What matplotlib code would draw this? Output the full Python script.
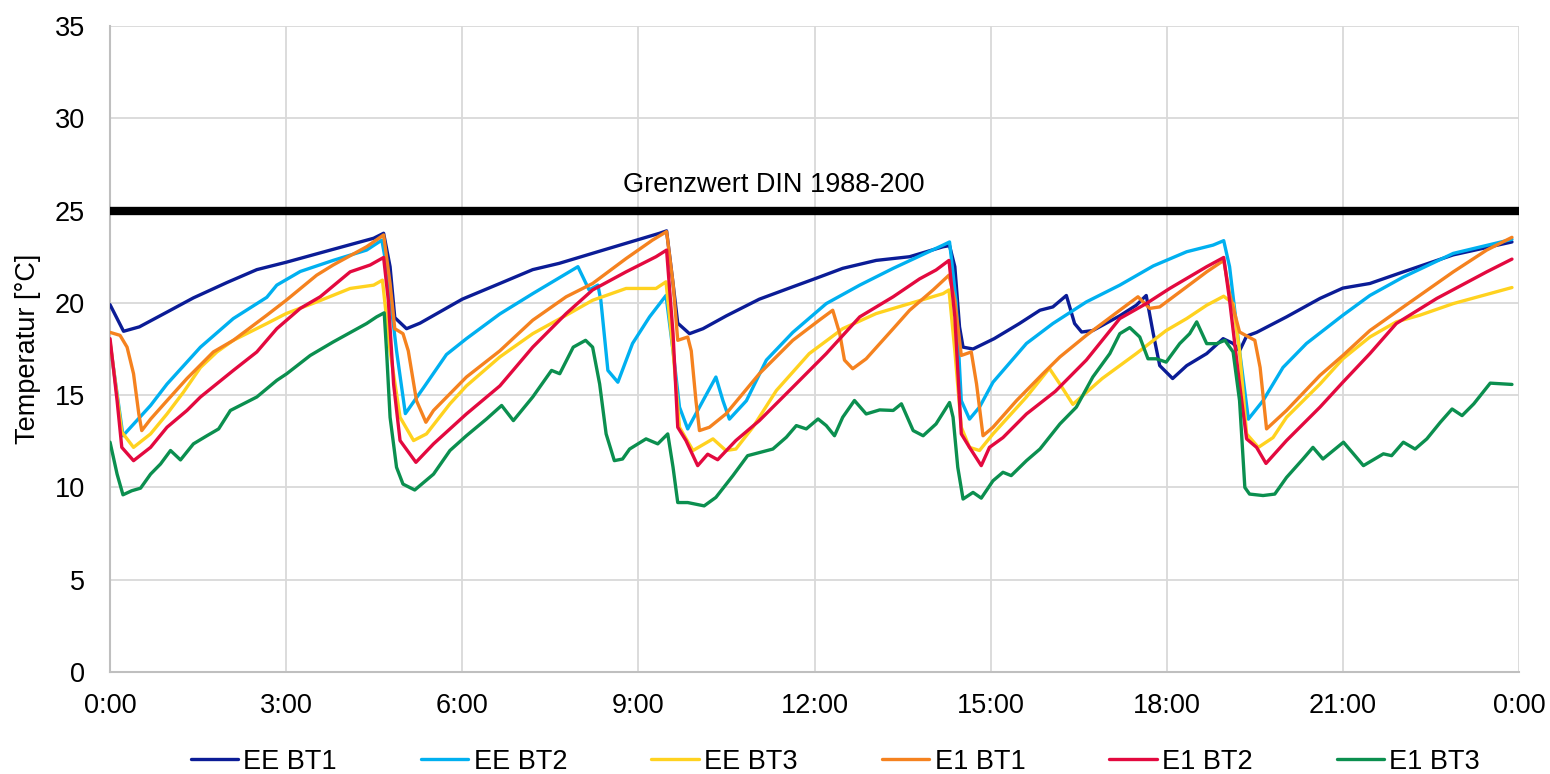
import matplotlib
matplotlib.use("Agg")
import matplotlib.pyplot as plt

# time in hours, temperature in degC
ee_bt1_h = [0.0, 0.23, 0.5, 0.97, 1.42, 1.99, 2.5, 3.0, 3.8, 4.49, 4.66, 4.77, 4.85, 5.05, 5.28,
            6.0, 6.64, 7.2, 7.65, 8.34, 9.36, 9.48, 9.59, 9.67, 9.87, 10.1, 10.5, 11.06, 11.63,
            12.0, 12.48, 13.05, 13.62, 14.19, 14.3, 14.39, 14.47, 14.53, 14.7, 15.06, 15.49,
            15.84, 16.06, 16.29, 16.43, 16.55, 16.74, 17.2, 17.48, 17.65, 17.77, 17.88, 18.1,
            18.34, 18.68, 18.96, 19.13, 19.24, 19.36, 19.53, 20.04, 20.61, 21.0, 21.46, 22.03,
            22.88, 23.88]
ee_bt1_t = [19.9, 18.46, 18.7, 19.5, 20.27, 21.1, 21.8, 22.2, 22.9, 23.5, 23.77, 21.96, 19.2, 18.6,
            18.9, 20.2, 21.05, 21.8, 22.14, 22.8, 23.77, 23.9, 21.05, 18.9, 18.33, 18.6, 19.3,
            20.2, 20.87, 21.3, 21.87, 22.3, 22.5, 23.04, 23.1, 21.96, 18.7, 17.6, 17.5, 18.06,
            18.88, 19.6, 19.78, 20.4, 18.88, 18.42, 18.5, 19.3, 19.87, 20.4, 18.33, 16.6, 15.9,
            16.6, 17.25, 18.06, 17.8, 17.4, 18.2, 18.4, 19.24, 20.24, 20.8, 21.05, 21.68, 22.6,
            23.3]

ee_bt2_h = [0.0, 0.22, 0.69, 0.97, 1.54, 2.1, 2.67, 2.84, 3.24, 3.8, 4.37, 4.63, 4.71, 4.88, 5.03,
            5.34, 5.73, 6.07, 6.64, 7.2, 7.97, 8.16, 8.31, 8.36, 8.48, 8.65, 8.9, 9.19, 9.47, 9.59,
            9.7, 9.84, 10.1, 10.32, 10.44, 10.55, 10.84, 11.18, 11.63, 12.2, 12.77, 13.34, 13.9,
            14.19, 14.3, 14.41, 14.5, 14.64, 14.81, 15.04, 15.61, 16.06, 16.63, 17.2, 17.77,
            18.34, 18.79, 18.97, 19.07, 19.24, 19.39, 19.64, 19.98, 20.38, 21.0, 21.46, 22.03,
            22.88, 23.88]
ee_bt2_t = [17.8, 12.8, 14.44, 15.6, 17.6, 19.15, 20.3, 20.96, 21.7, 22.3, 22.86, 23.4, 21.96, 17.4,
            14.0, 15.4, 17.2, 18.06, 19.4, 20.5, 21.96, 20.7, 20.96, 20.14, 16.34, 15.7, 17.8,
            19.24, 20.4, 17.4, 14.35, 13.17, 14.7, 15.98, 14.7, 13.7, 14.7, 16.9, 18.4, 19.96,
            20.96, 21.87, 22.7, 23.13, 23.3, 20.14, 14.7, 13.7, 14.35, 15.7, 17.8, 18.88, 20.05,
            20.96, 22.0, 22.77, 23.13, 23.37, 21.96, 17.4, 13.7, 14.7, 16.5, 17.8, 19.33, 20.4,
            21.4, 22.68, 23.44]

ee_bt3_h = [0.0, 0.2, 0.4, 0.69, 0.97, 1.25, 1.54, 1.82, 2.1, 2.67, 3.0, 3.52, 4.09, 4.49, 4.64,
            4.77, 4.94, 5.17, 5.39, 5.79, 6.07, 6.64, 7.2, 7.77, 8.22, 8.79, 9.3, 9.47, 9.59, 9.7,
            9.93, 10.27, 10.49, 10.66, 10.95, 11.35, 11.91, 12.48, 13.05, 13.62, 14.19, 14.29,
            14.39, 14.5, 14.64, 14.81, 15.04, 15.61, 16.0, 16.18, 16.4, 16.9, 17.48, 17.99,
            18.34, 18.68, 18.97, 19.13, 19.24, 19.36, 19.56, 19.81, 20.04, 20.61, 21.0, 21.46,
            21.91, 22.31, 22.88, 23.88]
ee_bt3_t = [17.9, 13.0, 12.17, 12.9, 13.98, 15.16, 16.5, 17.34, 17.97, 18.88, 19.42, 20.05, 20.78,
            20.96, 21.23, 17.4, 13.8, 12.54, 12.9, 14.53, 15.5, 17.07, 18.33, 19.33, 20.14, 20.78,
            20.78, 21.14, 17.4, 13.26, 12.0, 12.63, 12.0, 12.08, 13.26, 15.25, 17.25, 18.6, 19.42,
            19.96, 20.5, 20.7, 17.4, 13.26, 12.17, 12.0, 12.9, 14.9, 16.45, 15.6, 14.5, 15.9,
            17.25, 18.5, 19.15, 19.87, 20.36, 19.96, 17.4, 12.9, 12.17, 12.7, 13.8, 15.6, 16.97,
            18.15, 18.97, 19.33, 19.96, 20.83]

e1_bt1_h = [0.0, 0.17, 0.29, 0.4, 0.49, 0.54, 0.69, 0.97, 1.31, 1.76, 2.1, 2.67, 3.0, 3.52, 3.8,
            4.37, 4.66, 4.77, 4.85, 4.99, 5.08, 5.22, 5.38, 5.51, 6.07, 6.64, 7.2, 7.77, 8.22,
            8.79, 9.24, 9.48, 9.59, 9.67, 9.84, 9.9, 9.98, 10.04, 10.21, 10.49, 11.06, 11.63,
            12.08, 12.31, 12.43, 12.51, 12.65, 12.88, 13.34, 13.62, 14.02, 14.29, 14.39, 14.5,
            14.67, 14.76, 14.87, 15.04, 15.44, 15.89, 16.18, 16.63, 17.2, 17.51, 17.71, 17.88,
            18.34, 18.68, 18.97, 19.07, 19.24, 19.5, 19.59, 19.7, 20.04, 20.61, 21.0, 21.46,
            22.03, 22.88, 23.45, 23.88]
e1_bt1_t = [18.4, 18.24, 17.6, 16.16, 13.98, 13.08, 13.7, 14.7, 15.9, 17.34, 17.97, 19.33, 20.14,
            21.5, 22.05, 23.04, 23.68, 21.05, 18.6, 18.33, 17.4, 14.7, 13.53, 14.17, 15.98, 17.4,
            19.06, 20.33, 21.05, 22.4, 23.4, 23.86, 21.05, 17.97, 18.15, 17.4, 14.7, 13.08, 13.26,
            13.98, 16.16, 17.97, 19.06, 19.6, 18.33, 16.9, 16.43, 16.97, 18.6, 19.6, 20.7, 21.5,
            20.14, 17.15, 17.34, 15.6, 12.8, 13.26, 14.7, 16.16, 17.07, 18.24, 19.6, 20.33, 19.7,
            19.78, 20.87, 21.68, 22.3, 20.5, 18.42, 17.97, 16.5, 13.17, 14.17, 16.07, 17.15,
            18.5, 19.78, 21.68, 22.86, 23.55]

e1_bt2_h = [0.0, 0.12, 0.2, 0.4, 0.69, 0.97, 1.31, 1.54, 2.1, 2.5, 2.84, 3.24, 3.58, 4.09, 4.43,
            4.66, 4.74, 4.83, 4.94, 5.21, 5.51, 6.07, 6.64, 7.2, 7.77, 8.22, 8.79, 9.3, 9.48,
            9.59, 9.67, 9.81, 10.01, 10.18, 10.35, 10.66, 11.06, 11.63, 12.2, 12.77, 13.34,
            13.79, 14.07, 14.29, 14.39, 14.5, 14.64, 14.84, 14.98, 15.21, 15.61, 16.1, 16.63,
            17.2, 17.65, 18.05, 18.68, 18.97, 19.07, 19.24, 19.36, 19.53, 19.69, 20.04, 20.61,
            21.0, 21.46, 21.91, 22.6, 23.45, 23.88]
e1_bt2_t = [18.06, 14.7, 12.17, 11.45, 12.17, 13.26, 14.17, 14.9, 16.34, 17.34, 18.6, 19.7, 20.33,
            21.68, 22.05, 22.46, 20.14, 15.6, 12.54, 11.36, 12.36, 13.98, 15.5, 17.6, 19.42, 20.7,
            21.68, 22.5, 22.86, 18.33, 13.26, 12.54, 11.18, 11.8, 11.5, 12.54, 13.62, 15.43,
            17.25, 19.24, 20.33, 21.3, 21.78, 22.3, 19.24, 12.9, 12.17, 11.18, 12.17, 12.7,
            13.98, 15.2, 16.9, 19.15, 19.96, 20.78, 21.96, 22.46, 20.14, 15.6, 12.63, 12.17,
            11.3, 12.54, 14.35, 15.7, 17.25, 18.88, 20.24, 21.68, 22.37]

e1_bt3_h = [0.0, 0.12, 0.22, 0.37, 0.52, 0.69, 0.86, 1.03, 1.2, 1.42, 1.65, 1.85, 2.05, 2.5, 2.84,
            3.01, 3.41, 3.8, 4.37, 4.54, 4.67, 4.71, 4.77, 4.88, 4.99, 5.19, 5.51, 5.79, 6.07,
            6.41, 6.67, 6.87, 7.2, 7.52, 7.66, 7.89, 8.1, 8.22, 8.34, 8.45, 8.59, 8.73, 8.85,
            9.13, 9.33, 9.5, 9.59, 9.67, 9.84, 10.12, 10.32, 10.61, 10.86, 11.29, 11.52, 11.69,
            11.86, 12.06, 12.2, 12.34, 12.48, 12.68, 12.88, 13.11, 13.34, 13.48, 13.68, 13.85,
            14.07, 14.3, 14.36, 14.44, 14.53, 14.7, 14.84, 15.04, 15.21, 15.35, 15.61, 15.84,
            16.18, 16.46, 16.74, 17.03, 17.2, 17.37, 17.54, 17.68, 17.82, 17.99, 18.22, 18.39,
            18.51, 18.68, 18.85, 18.99, 19.13, 19.24, 19.33, 19.41, 19.64, 19.84, 20.04, 20.32,
            20.49, 20.66, 21.01, 21.18, 21.35, 21.69, 21.83, 22.03, 22.23, 22.43, 22.66, 22.86,
            23.03, 23.23, 23.51, 23.88]
e1_bt3_t = [12.45, 10.72, 9.6, 9.82, 9.96, 10.72, 11.27, 12.0, 11.49, 12.36, 12.8, 13.17, 14.17,
            14.9, 15.8, 16.16, 17.15, 17.88, 18.88, 19.24, 19.46, 17.4, 13.8, 11.09, 10.18, 9.86,
            10.72, 12.0, 12.8, 13.7, 14.44, 13.62, 14.9, 16.34, 16.16, 17.6, 17.97, 17.6, 15.6,
            12.9, 11.45, 11.54, 12.08, 12.63, 12.36, 12.9, 11.09, 9.18, 9.18, 9.0, 9.46, 10.64,
            11.72, 12.08, 12.72, 13.35, 13.17, 13.71, 13.35, 12.8, 13.8, 14.71, 13.98, 14.2,
            14.17, 14.53, 13.08, 12.8, 13.44, 14.6, 13.8, 11.09, 9.37, 9.73, 9.42, 10.36, 10.82,
            10.64, 11.45, 12.08, 13.44, 14.35, 15.98, 17.25, 18.33, 18.66, 18.15, 16.97, 16.97,
            16.79, 17.79, 18.33, 18.97, 17.79, 17.79, 17.97, 17.34, 14.7, 10.0, 9.64, 9.56, 9.64,
            10.54, 11.54, 12.17, 11.54, 12.45, 11.82, 11.18, 11.82, 11.72, 12.45, 12.08, 12.63,
            13.53, 14.25, 13.89, 14.53, 15.65, 15.58]

series_names = ["EE BT1", "EE BT2", "EE BT3", "E1 BT1", "E1 BT2", "E1 BT3"]
series_colors = ["#0B1C96", "#00B0F0", "#FFD21F", "#F5821F", "#E3093F", "#0B8F4F"]

grenzwert = 25
grenzwert_label = "Grenzwert DIN 1988-200"
hour_ticks = [0, 3, 6, 9, 12, 15, 18, 21, 24]
temp_ticks = [0, 5, 10, 15, 20, 25, 30, 35]

plt.rcParams['font.family'] = ['Liberation Sans', 'DejaVu Sans']
FS = 19.5

fig = plt.figure(figsize=(15.5, 7.74), dpi=100)
ax = fig.add_axes([0.071, 0.1318, 0.909, 0.8346])

hours = [ee_bt1_h, ee_bt2_h, ee_bt3_h, e1_bt1_h, e1_bt2_h, e1_bt3_h]
temps = [ee_bt1_t, ee_bt2_t, ee_bt3_t, e1_bt1_t, e1_bt2_t, e1_bt3_t]
for h, t, name, col in zip(hours, temps, series_names, series_colors):
    ax.plot(h, t, color=col, lw=2.4, label=name, solid_joinstyle='round',
            solid_capstyle='round', zorder=3)

ax.axhline(grenzwert, color='black', lw=6, zorder=4)
ax.text(11.3, grenzwert + 1.4, grenzwert_label, ha='center', va='center', fontsize=FS)

ax.set_xlim(0, 24)
ax.set_ylim(0, 35)
ax.set_xticks(hour_ticks)
ax.set_xticklabels([f"{h % 24}:00" for h in hour_ticks])
ax.set_yticks(temp_ticks)
ax.tick_params(length=0, labelsize=FS)
ax.tick_params(axis='y', pad=18)
ax.tick_params(axis='x', pad=15)
ax.grid(True, color='#D9D9D9', lw=1.3)
ax.set_axisbelow(True)
for s in ['top', 'right']:
    ax.spines[s].set_visible(False)
for s in ['left', 'bottom']:
    ax.spines[s].set_color('#BFBFBF')
    ax.spines[s].set_linewidth(1.5)

ax.set_ylabel("Temperatur [°C]", fontsize=FS)
ax.yaxis.set_label_coords(-0.049, 0.5)

fig.legend(loc='center', bbox_to_anchor=(0.539, 0.016), ncol=6, frameon=False,
           fontsize=FS, handlelength=1.75, handletextpad=0.2, columnspacing=3.1)

fig.savefig("out.png", dpi=100)
